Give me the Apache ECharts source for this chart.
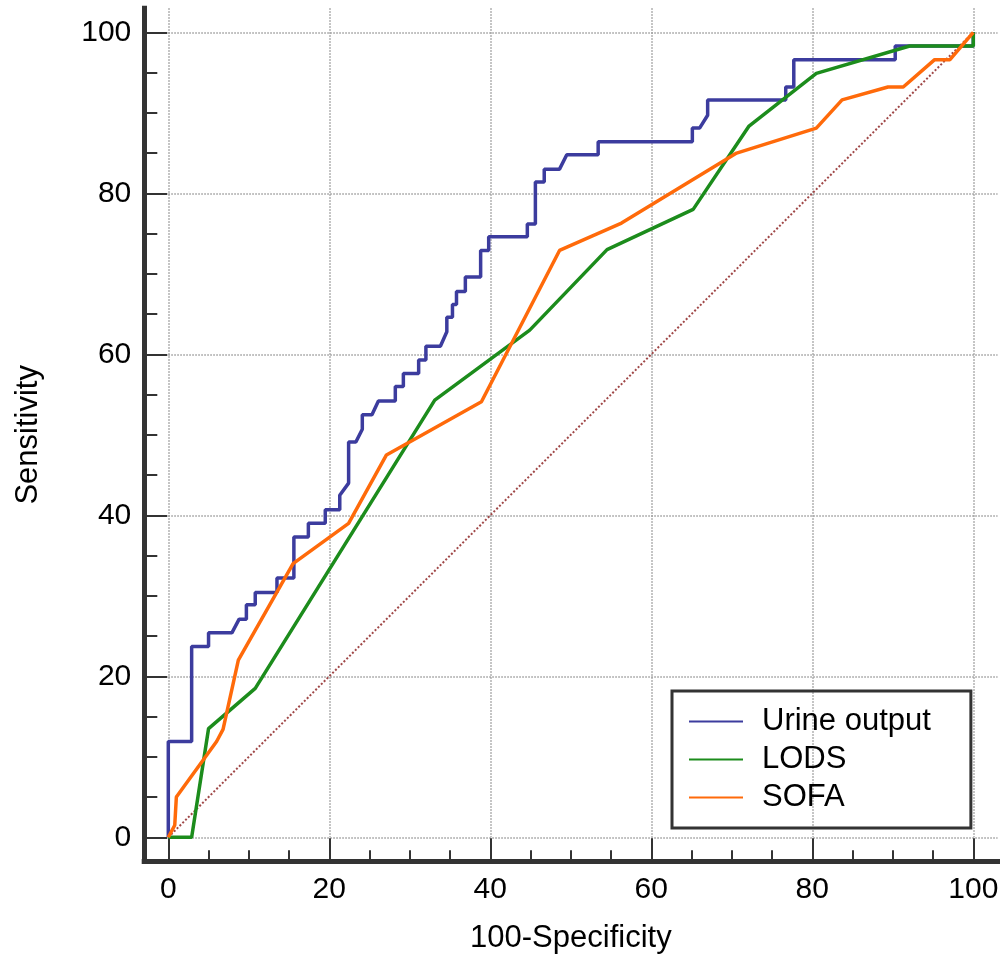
<!DOCTYPE html>
<html>
<head>
<meta charset="utf-8">
<script src="https://cdn.jsdelivr.net/npm/echarts@6/dist/echarts.min.js"></script>
<style>
  html, body { margin: 0; padding: 0; background: #fff; }
  #chart { width: 1003px; height: 959px; }
</style>
</head>
<body>
<div id="chart"></div>
<script>
// ROC curves
const seriesNames = ["Urine output", "LODS", "SOFA"];
const tickValues = [0, 20, 40, 60, 80, 100];

const urineX = [0, 0, 2.9, 2.9, 5.0, 5.0, 7.9, 8.8, 9.7, 9.7, 10.8, 10.8, 13.5, 13.5, 15.6, 15.6, 17.4, 17.4, 19.5, 19.5,
  21.3, 21.3, 22.4, 22.4, 23.3, 24.1, 24.1, 25.3, 26.1, 28.2, 28.2, 29.2, 29.2, 31.1, 31.1, 32.0, 32.0, 33.8,
  34.6, 34.6, 35.3, 35.3, 35.8, 35.8, 36.9, 36.9, 38.8, 38.8, 39.8, 39.8, 44.6, 44.6, 45.6, 45.6, 46.7, 46.7,
  48.6, 49.5, 53.4, 53.4, 65.1, 65.1, 66.0, 67.0, 67.0, 76.7, 76.7, 77.7, 77.7, 90.3, 90.3, 100, 100];
const urineY = [0, 11.9, 11.9, 23.7, 23.7, 25.4, 25.4, 27.1, 27.1, 28.9, 28.9, 30.4, 30.4, 32.2, 32.2, 37.3, 37.3, 39.0, 39.0, 40.7,
  40.7, 42.5, 44.0, 49.1, 49.1, 50.7, 52.5, 52.5, 54.2, 54.2, 56.0, 56.0, 57.6, 57.6, 59.3, 59.3, 61.0, 61.0,
  62.8, 64.6, 64.6, 66.2, 66.2, 67.8, 67.8, 69.6, 69.6, 72.9, 72.9, 74.6, 74.6, 76.2, 76.2, 81.4, 81.4, 83.0,
  83.0, 84.8, 84.8, 86.4, 86.4, 88.1, 88.1, 89.7, 91.6, 91.6, 93.2, 93.2, 96.6, 96.6, 98.3, 98.3, 100];

const lodsX = [0, 2.9, 5.0, 10.8, 33.1, 44.9, 54.5, 65.2, 72.1, 80.5, 92.1, 100, 100];
const lodsY = [0, 0, 13.5, 18.5, 54.3, 63.0, 73.0, 78.0, 88.3, 94.9, 98.3, 98.3, 100];

const sofaX = [0, 0.8, 1.0, 6.0, 6.8, 8.7, 15.5, 22.4, 27.1, 38.9, 48.6, 56.3, 70.6, 80.5, 83.7, 89.4, 91.3, 95.2, 97.1, 100];
const sofaY = [0, 1.5, 5.0, 11.9, 13.4, 22.0, 34.0, 39.0, 47.5, 54.1, 72.9, 76.3, 85.0, 88.1, 91.6, 93.2, 93.2, 96.6, 96.6, 100];

const refX = [0, 100];
const refY = [0, 100];

function pairs(xs, ys) {
  return xs.map((x, i) => [x, ys[i]]);
}

const font = "Liberation Sans";
const chart = echarts.init(document.getElementById("chart"));

const tickStyle = { color: "#333", width: 2 };

const option = {
  backgroundColor: "#fff",
  animation: false,
  grid: [
    // data grid, 0..100
    { left: 168.3, right: 29.7, top: 32.3, bottom: 121.7 },
    // frame axes, -3..103
    { left: 144.2, right: 5.5, top: 8.2, bottom: 97.5 },
    // dotted grid lines, 0..103
    { left: 168.3, right: 5.5, top: 8.2, bottom: 121.7 },
  ],
  legend: {
    orient: "vertical",
    left: 672,
    top: 691,
    data: seriesNames,
    icon: "rect",
    itemWidth: 54,
    itemHeight: 2,
    itemGap: 7,
    padding: [15, 40, 15, 17],
    borderColor: "#333",
    borderWidth: 3,
    textStyle: {
      fontFamily: font,
      fontSize: 31,
      color: "#000",
      padding: [0, 0, 0, 14],
    },
  },
  xAxis: [
    {
      type: "value",
      gridIndex: 0,
      min: 0,
      max: 100,
      interval: 20,
      offset: 24,
      axisLine: { show: false, onZero: false },
      axisTick: { show: true, inside: true, length: 23, lineStyle: tickStyle },
      minorTick: { show: true, splitNumber: 4, length: 11, lineStyle: tickStyle },
      axisLabel: { fontFamily: font, fontSize: 30, color: "#000", margin: 13 },
      splitLine: { show: false },
    },
    {
      type: "value",
      gridIndex: 1,
      min: -3,
      max: 103,
      axisLine: { show: true, onZero: false, lineStyle: { color: "#333", width: 5, cap: "square" } },
      axisTick: { show: false },
      axisLabel: { show: false },
      splitLine: { show: false },
      name: "100-Specificity",
      nameLocation: "middle",
      nameGap: 61,
      nameTextStyle: { fontFamily: font, fontSize: 31, color: "#000" },
    },
    {
      type: "value",
      gridIndex: 2,
      min: 0,
      max: 103,
      interval: 20,
      axisLine: { show: false, onZero: false },
      axisTick: { show: false },
      axisLabel: { show: false },
      splitLine: {
        show: true,
        showMaxLine: false,
        lineStyle: { color: "#999", width: 1.5, type: "dotted" },
      },
    },
  ],
  yAxis: [
    {
      type: "value",
      gridIndex: 0,
      min: 0,
      max: 100,
      interval: 20,
      offset: 24,
      axisLine: { show: false, onZero: false },
      axisTick: { show: true, inside: true, length: 23, lineStyle: tickStyle },
      minorTick: { show: true, splitNumber: 4, length: 13, lineStyle: tickStyle },
      axisLabel: { fontFamily: font, fontSize: 30, color: "#000", margin: 13 },
      splitLine: { show: false },
    },
    {
      type: "value",
      gridIndex: 1,
      min: -3,
      max: 103,
      axisLine: { show: true, onZero: false, lineStyle: { color: "#333", width: 5, cap: "square" } },
      axisTick: { show: false },
      axisLabel: { show: false },
      splitLine: { show: false },
      name: "Sensitivity",
      nameLocation: "middle",
      nameGap: 100,
      nameTextStyle: { fontFamily: font, fontSize: 31, color: "#000" },
    },
    {
      type: "value",
      gridIndex: 2,
      min: 0,
      max: 103,
      interval: 20,
      axisLine: { show: false, onZero: false },
      axisTick: { show: false },
      axisLabel: { show: false },
      splitLine: {
        show: true,
        showMaxLine: false,
        lineStyle: { color: "#999", width: 1.5, type: "dotted" },
      },
    },
  ],
  series: [
    {
      name: "reference",
      type: "line",
      xAxisIndex: 0,
      yAxisIndex: 0,
      symbol: "none",
      silent: true,
      lineStyle: { color: "#a04848", width: 2, type: [2, 2] },
      data: pairs(refX, refY),
    },
    {
      name: seriesNames[0],
      type: "line",
      xAxisIndex: 0,
      yAxisIndex: 0,
      symbol: "none",
      itemStyle: { color: "#3c3c9e" },
      lineStyle: { color: "#3c3c9e", width: 3.5 },
      data: pairs(urineX, urineY),
    },
    {
      name: seriesNames[1],
      type: "line",
      xAxisIndex: 0,
      yAxisIndex: 0,
      symbol: "none",
      itemStyle: { color: "#1c8c1c" },
      lineStyle: { color: "#1c8c1c", width: 3.5 },
      data: pairs(lodsX, lodsY),
    },
    {
      name: seriesNames[2],
      type: "line",
      xAxisIndex: 0,
      yAxisIndex: 0,
      symbol: "none",
      itemStyle: { color: "#ff6a0a" },
      lineStyle: { color: "#ff6a0a", width: 3.5 },
      data: pairs(sofaX, sofaY),
    },
  ],
};

chart.setOption(option);
</script>
</body>
</html>
